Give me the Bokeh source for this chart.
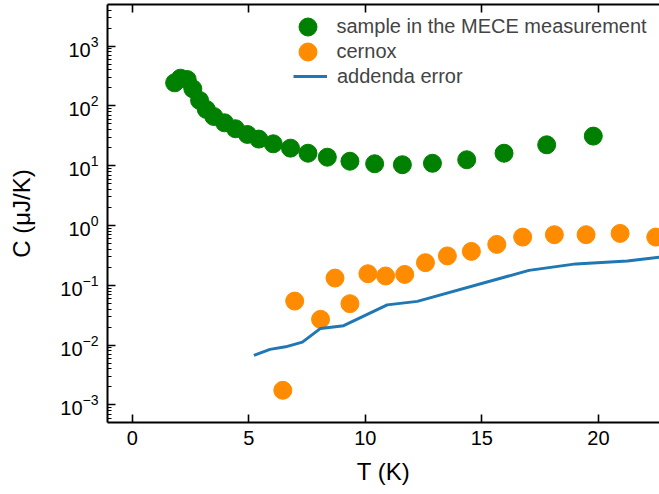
import numpy as np
from bokeh.plotting import figure
from bokeh.models import (Range1d, LinearAxis, FixedTicker, Legend, LegendItem)
from bokeh.embed import file_html
from bokeh.resources import INLINE

# ---- data ----
sample_T = [1.82, 2.07, 2.36, 2.60, 2.89, 3.18, 3.50, 3.96, 4.43, 4.94, 5.43, 6.05,
            6.79, 7.54, 8.37, 9.34, 10.40, 11.59, 12.88, 14.35, 15.95, 17.78, 19.78]
sample_C = [244, 292, 277, 194, 124, 87.4, 66.7, 52.3, 41.6, 33.4, 27.9, 23.3,
            19.7, 16.2, 13.9, 11.9, 10.8, 10.4, 11.0, 12.6, 16.2, 22.4, 31.3]

cernox_T = [6.46, 6.97, 8.08, 8.70, 9.34, 10.11, 10.87, 11.69, 12.58, 13.52,
            14.55, 15.64, 16.75, 18.11, 19.47, 20.93, 22.46]
cernox_C = [1.75e-3, 0.0544, 0.0269, 0.132, 0.0492, 0.156, 0.143, 0.152, 0.239, 0.310,
            0.369, 0.483, 0.640, 0.702, 0.702, 0.738, 0.640]

addenda_T = [5.22, 5.91, 6.58, 7.30, 8.08, 9.07, 10.94, 12.23, 17.02, 19.03, 21.24, 22.63]
addenda_C = [6.73e-3, 8.47e-3, 9.33e-3, 0.0112, 0.0190, 0.0211, 0.0470, 0.0538,
             0.1775, 0.228, 0.254, 0.296]

x_ticks = [0, 5, 10, 15, 20]
y_ticks = [1e-3, 1e-2, 1e-1, 1e0, 1e1, 1e2, 1e3]
y_minor = [m * 10.0 ** e for e in range(-4, 4) for m in range(2, 10)]

FONT = "Liberation Sans"

p = figure(width=659, height=494, x_range=Range1d(-1.06, 22.62),
           y_range=Range1d(5.06e-4, 4986), y_axis_type="log",
           output_backend="svg", toolbar_location=None,
           min_border_left=107, min_border_right=0, min_border_top=4,
           min_border_bottom=72, outline_line_color=None,
           background_fill_color="white", border_fill_color="white")
p.xgrid.visible = False
p.ygrid.visible = False

def style_axis(ax):
    ax.axis_line_width = 2
    ax.axis_line_color = "black"
    ax.major_tick_in = 8
    ax.major_tick_out = 0
    ax.major_tick_line_width = 1.6
    ax.minor_tick_line_width = 1.2
    ax.major_label_text_font = FONT
    ax.major_label_text_font_size = "20px"
    ax.major_label_text_color = "black"
    ax.axis_label_text_font = FONT
    ax.axis_label_text_font_size = "24px"
    ax.axis_label_text_font_style = "normal"
    ax.axis_label_text_color = "black"

xa = p.xaxis[0]
xa.ticker = FixedTicker(ticks=x_ticks)
style_axis(xa)
xa.minor_tick_in = 0
xa.minor_tick_out = 0
xa.major_label_standoff = 8
xa.axis_label = "T (K)"
xa.axis_label_standoff = 10

ya = p.yaxis[0]
ya.ticker = FixedTicker(ticks=y_ticks, minor_ticks=y_minor)
style_axis(ya)
ya.minor_tick_in = 4
ya.minor_tick_out = 0
ya.major_label_standoff = 9
ya.axis_label = "C (\u03bcJ/K)"
ya.axis_label_standoff = 22

top = LinearAxis(ticker=FixedTicker(ticks=x_ticks))
style_axis(top)
top.minor_tick_in = 0
top.minor_tick_out = 0
top.major_label_standoff = 0
top.major_label_overrides = {t: "" for t in x_ticks}
p.add_layout(top, "above")

r_s = p.scatter(sample_T, sample_C, size=18, color="#008000")
r_c = p.scatter(cernox_T, cernox_C, size=18, color="#ff8c00")
r_a = p.line(addenda_T, addenda_C, line_width=3, color="#1f77b4")

legend_style = dict(padding=0, margin=0, border_line_color=None, background_fill_alpha=0,
                    label_text_font=FONT, label_text_font_size="20px")
leg_s = Legend(items=[LegendItem(label="sample in the MECE measurement", renderers=[r_s])],
               location=(177.5, 372.8), glyph_width=45, glyph_height=45,
               label_standoff=7, **legend_style)
leg_c = Legend(items=[LegendItem(label="cernox", renderers=[r_c])],
               location=(177.5, 348.5), glyph_width=45, glyph_height=45,
               label_standoff=7, **legend_style)
leg_a = Legend(items=[LegendItem(label="addenda error", renderers=[r_a])],
               location=(186, 334), glyph_width=34, glyph_height=24,
               label_standoff=10, **legend_style)
p.add_layout(leg_s)
p.add_layout(leg_c)
p.add_layout(leg_a)

open("out.html", "w").write(file_html(p, INLINE))
